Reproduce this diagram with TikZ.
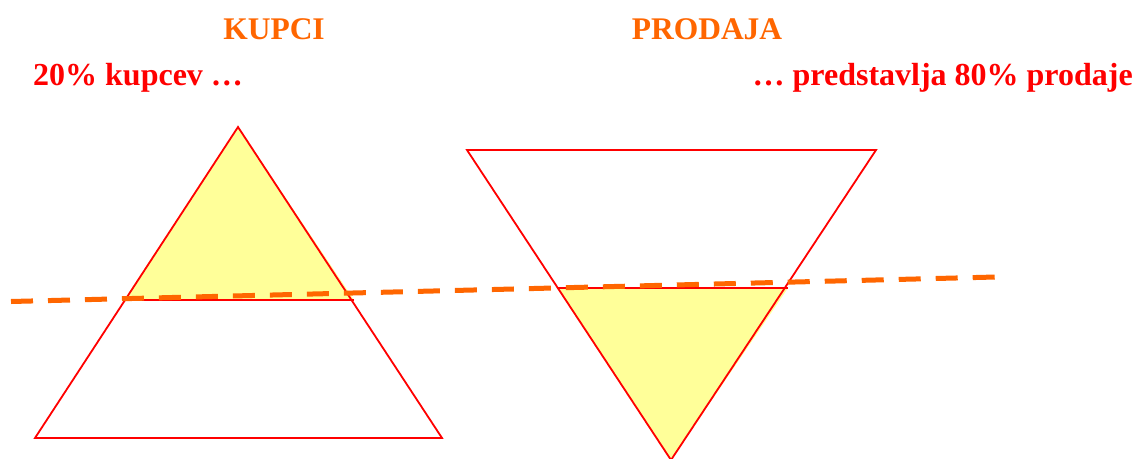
\documentclass[tikz,border=0pt]{standalone}
\usepackage{fontspec}
\setmainfont{Liberation Serif}
\definecolor{kred}{HTML}{FF0000}
\definecolor{korange}{HTML}{FF6600}
\definecolor{kyellow}{HTML}{FFFF99}
\begin{document}
\begin{tikzpicture}[x=1pt,y=-1pt,
  outline/.style={draw=kred,line width=1.8pt,line join=miter},
  part/.style={fill=kyellow},
  title/.style={text=korange,font=\bfseries\fontsize{31.5}{36}\selectfont,inner sep=0pt},
  caption/.style={text=kred,font=\bfseries\fontsize{32}{36}\selectfont,inner sep=0pt},
  split/.style={draw=korange,line width=5pt,dash pattern=on 22pt off 15pt}]
\useasboundingbox (0,0) rectangle (1137,458);
% left pyramid
\coordinate (la) at (238,127);
\coordinate (ll) at (35,438);
\coordinate (lr) at (442,438);
\coordinate (lsl) at (124,300);
\coordinate (lsr) at (354,300);
\fill[part] (la) -- (lsl) -- (lsr) -- cycle;
\draw[outline] (la) -- (ll) -- (lr) -- cycle;
\draw[outline] (lsl) -- (lsr);
% right inverted pyramid
\coordinate (rl) at (467,150);
\coordinate (rr) at (876,150);
\coordinate (ra) at (671,460);
\coordinate (rsl) at (557,288);
\coordinate (rsr) at (788,288);
\fill[part] (ra) -- (rsl) -- (rsr) -- cycle;
\draw[outline] (rl) -- (rr) -- (ra) -- cycle;
\draw[outline] (rsl) -- (rsr);
% dashed divider
\coordinate (d1) at (11,301.5);
\coordinate (d2) at (996,277);
\draw[split] (d1) -- (d2);
% texts
\node[title,anchor=base] (kupci) at (274,39) {KUPCI};
\node[title,anchor=base] (prodaja) at (707,39) {PRODAJA};
\node[caption,anchor=base west] (c1) at (33,85) {20\% kupcev …};
\node[caption,anchor=base east] (c2) at (1133,85) {… predstavlja 80\% prodaje};
\end{tikzpicture}
\end{document}
